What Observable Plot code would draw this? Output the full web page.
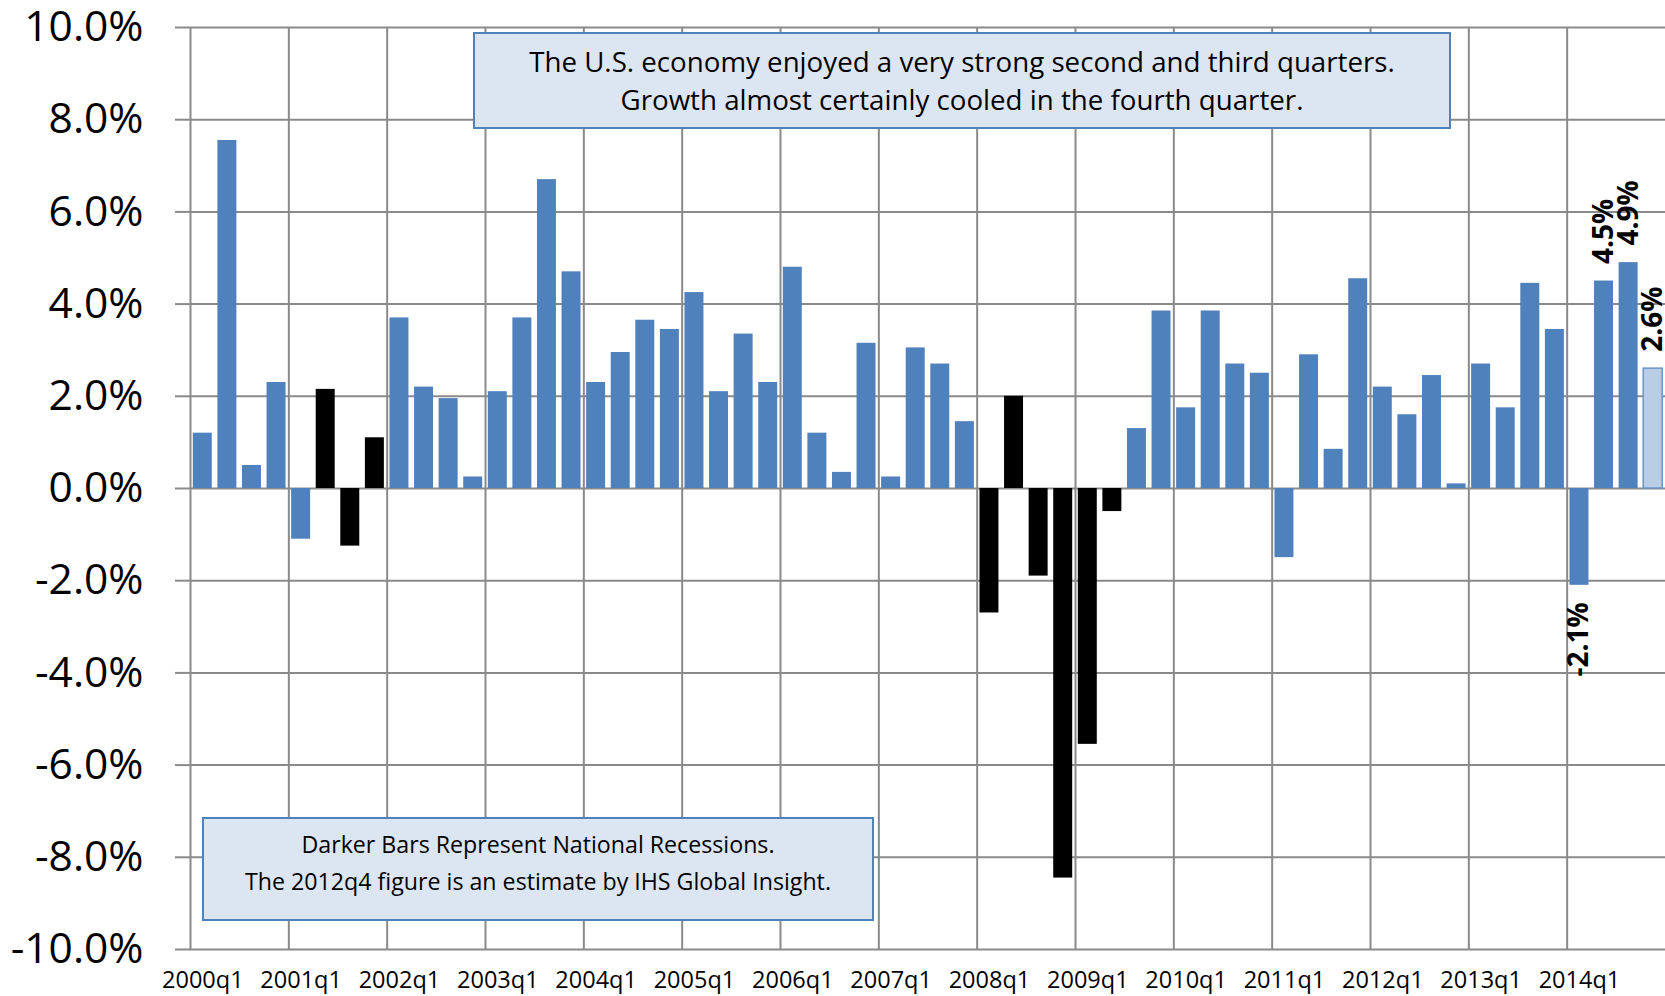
<!DOCTYPE html>
<html><head><meta charset="utf-8">
<script src="https://cdn.jsdelivr.net/npm/d3@7"></script>
<script src="https://cdn.jsdelivr.net/npm/@observablehq/plot@0.6"></script>
<style>
body{margin:0;background:#fff;}
#wrap{position:relative;width:1665px;height:996px;overflow:hidden;font-family:"Open Sans",sans-serif;background:#fff;}
#wrap svg{position:absolute;left:0;top:0;}
.note{position:absolute;box-sizing:border-box;background:#DCE6F2;border:2px solid #4F81BD;text-align:center;color:#000;white-space:nowrap;}
#noteTop{left:473px;top:32px;width:978px;height:97px;font-size:27.7px;line-height:38px;padding-top:8px;}
#noteBottom{left:202px;top:817px;width:672px;height:104px;font-size:23.2px;line-height:37px;padding-top:7px;}
</style></head><body>
<div id="wrap">
  <div class="note" id="noteTop">The U.S. economy enjoyed a very strong second and third quarters.<br>Growth almost certainly cooled in the fourth quarter.</div>
  <div class="note" id="noteBottom">Darker Bars Represent National Recessions.<br>The 2012q4 figure is an estimate by IHS Global Insight.</div>
</div>
<script>
// ---- data ----
const years = [2000,2001,2002,2003,2004,2005,2006,2007,2008,2009,2010,2011,2012,2013,2014];
const quarters = years.flatMap(y => ["q1","q2","q3","q4"].map(q => `${y}${q}`));
const growth = [
  1.2, 7.55, 0.5, 2.3,      // 2000
  -1.1, 2.15, -1.25, 1.1,   // 2001
  3.7, 2.2, 1.95, 0.25,     // 2002
  2.1, 3.7, 6.7, 4.7,       // 2003
  2.3, 2.95, 3.65, 3.45,    // 2004
  4.25, 2.1, 3.35, 2.3,     // 2005
  4.8, 1.2, 0.35, 3.15,     // 2006
  0.25, 3.05, 2.7, 1.45,    // 2007
  -2.7, 2.0, -1.9, -8.45,   // 2008
  -5.55, -0.5, 1.3, 3.85,   // 2009
  1.75, 3.85, 2.7, 2.5,     // 2010
  -1.5, 2.9, 0.85, 4.55,    // 2011
  2.2, 1.6, 2.45, 0.1,      // 2012
  2.7, 1.75, 4.45, 3.45,    // 2013
  -2.1, 4.5, 4.9, 2.6       // 2014
];
const recessionQuarters = ["2001q2","2001q3","2001q4","2008q1","2008q2","2008q3","2008q4","2009q1","2009q2"];
const estimateQuarters = ["2014q4"];
const labeledQuarters = ["2014q1","2014q2","2014q3","2014q4"];
const yTicks = [-10,-8,-6,-4,-2,0,2,4,6,8,10];
const xTickLabels = ["2000q1","2001q1","2002q1","2003q1","2004q1","2005q1","2006q1","2007q1","2008q1","2009q1","2010q1","2011q1","2012q1","2013q1","2014q1"];

// ---- table ----
const rows = quarters.map((q, i) => ({
  q, i, v: growth[i],
  type: estimateQuarters.includes(q) ? "estimate" : recessionQuarters.includes(q) ? "recession" : "growth"
}));
const labelRows = rows.filter(d => labeledQuarters.includes(d.q));
const gridIdx = xTickLabels.map(l => quarters.indexOf(l));
const tickIdx = xTickLabels.map(l => quarters.indexOf(l) + 0.5);
const fmt = v => v.toFixed(1) + "%";

const GRID = "#8a8a8a";
const chart = Plot.plot({
  width: 1665, height: 996,
  marginLeft: 190, marginRight: 0, marginTop: 27, marginBottom: 47,
  style: {fontFamily: '"Open Sans", sans-serif', background: "transparent", color: "#000", overflow: "visible"},
  x: {domain: [0, quarters.length], axis: null},
  y: {domain: [-10, 10], axis: null},
  color: {domain: ["growth","recession","estimate"], range: ["#4F81BD","#000000","#B9CDE5"]},
  marks: [
    Plot.gridY({ticks: yTicks, stroke: GRID, strokeOpacity: 1, strokeWidth: 2}),
    Plot.ruleX(gridIdx, {stroke: GRID, strokeWidth: 2}),
    Plot.axisY({ticks: yTicks, label: null, tickSize: 15, tickPadding: 32, stroke: GRID, strokeOpacity: 1, strokeWidth: 2,
      fontSize: 42.5, tickFormat: d => d.toFixed(1) + "%"}),
    Plot.rectY(rows, {x1: "i", x2: d => d.i + 1, y: "v", fill: "type",
      stroke: d => d.type === "estimate" ? "#6E93C6" : "none", strokeWidth: 1.5,
      insetLeft: 2.8, insetRight: 2.8}),
    Plot.axisX({ticks: tickIdx, label: null, tickSize: 0, tickPadding: 22, fontSize: 23.5,
      tickFormat: d => quarters[Math.floor(d)]}),
    Plot.text(labelRows.filter(d => d.v >= 0), {x: d => d.i + 0.5, y: "v", text: d => fmt(d.v),
      rotate: -90, textAnchor: "start", dy: -17, fontSize: 28, fontWeight: "bold", fill: "#000"}),
    Plot.text(labelRows.filter(d => d.v < 0), {x: d => d.i + 0.5, y: "v", text: d => fmt(d.v),
      rotate: -90, textAnchor: "end", dy: 17, fontSize: 28, fontWeight: "bold", fill: "#000"})
  ]
});
document.getElementById("wrap").prepend(chart);
</script>
</body></html>
